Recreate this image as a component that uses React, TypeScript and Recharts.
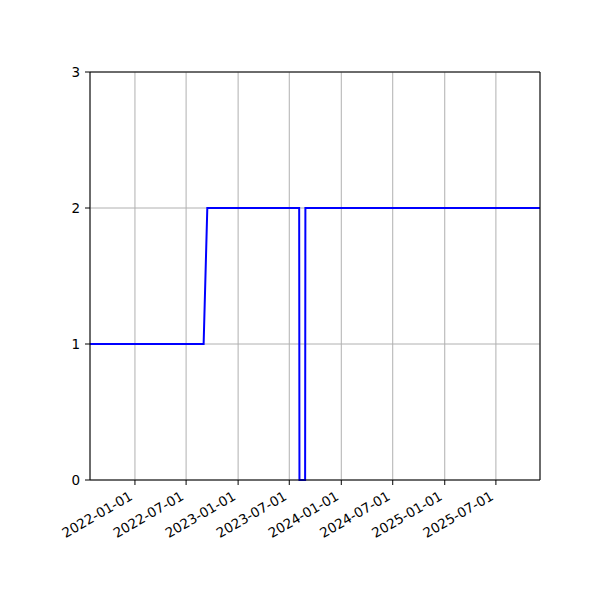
import React from "react";
import {
  LineChart,
  Line,
  XAxis,
  YAxis,
  CartesianGrid,
} from "recharts";

// Data
const pointDates = [
  "2021-07-26",
  "2022-09-01",
  "2022-09-14",
  "2023-08-05",
  "2023-08-06",
  "2023-08-26",
  "2023-08-27",
  "2025-12-04",
];
const pointValues = [1, 1, 2, 2, 0, 0, 2, 2];

const xTickLabels = [
  "2022-01-01",
  "2022-07-01",
  "2023-01-01",
  "2023-07-01",
  "2024-01-01",
  "2024-07-01",
  "2025-01-01",
  "2025-07-01",
];
const yTicks = [0, 1, 2, 3];
const xDomainLabels = ["2021-07-26", "2025-12-04"];

const toMs = (s: string) => {
  const [y, m, d] = s.split("-").map(Number);
  return Date.UTC(y, m - 1, d);
};

const fmt = (ms: number) => {
  const dt = new Date(ms);
  const y = dt.getUTCFullYear();
  const m = String(dt.getUTCMonth() + 1).padStart(2, "0");
  const d = String(dt.getUTCDate()).padStart(2, "0");
  return `${y}-${m}-${d}`;
};

const data = pointDates.map((d, i) => ({ t: toMs(d), v: pointValues[i] }));
const xTicks = xTickLabels.map(toMs);
const xDomain = xDomainLabels.map(toMs);

const FONT = "DejaVu Sans, sans-serif";
const FS = 13.5;

const XTick = (props: any) => {
  const { x, y, payload } = props;
  return (
    <g transform={`translate(${x - 1.5},${y + 9})`}>
      <text
        x={0}
        y={0}
        textAnchor="end"
        transform="rotate(-30)"
        fontSize={FS}
        fontFamily={FONT}
        fill="#000"
      >
        {fmt(payload.value)}
      </text>
    </g>
  );
};

export default function App() {
  return (
    <div style={{ position: "absolute", left: 0, top: 0, width: 600, height: 600, background: "#fff" }}>
      <LineChart
        width={600}
        height={600}
        data={data}
        margin={{ top: 0, right: 0, bottom: 0, left: 0 }}
      >
        <CartesianGrid stroke="#b0b0b0" strokeWidth={1} />
        <XAxis
          dataKey="t"
          type="number"
          domain={xDomain}
          ticks={xTicks}
          allowDataOverflow
          height={120}
          tickSize={5}
          tickMargin={5}
          tick={<XTick />}
          axisLine={{ stroke: "#000", strokeWidth: 1 }}
          tickLine={{ stroke: "#000", strokeWidth: 1 }}
          interval={0}
        />
        <XAxis
          xAxisId="top"
          orientation="top"
          dataKey="t"
          type="number"
          domain={xDomain}
          allowDataOverflow
          height={72}
          tick={false}
          tickLine={false}
          axisLine={{ stroke: "#000", strokeWidth: 1 }}
        />
        <YAxis
          type="number"
          domain={[0, 3]}
          ticks={yTicks}
          width={90}
          tickSize={5}
          tickMargin={5}
          interval={0}
          tick={{ fill: "#000", fontSize: FS, fontFamily: FONT }}
          axisLine={{ stroke: "#000", strokeWidth: 1 }}
          tickLine={{ stroke: "#000", strokeWidth: 1 }}
        />
        <YAxis
          yAxisId="right"
          orientation="right"
          type="number"
          domain={[0, 3]}
          width={60}
          tick={false}
          tickLine={false}
          axisLine={{ stroke: "#000", strokeWidth: 1 }}
        />
        <Line
          type="linear"
          dataKey="v"
          stroke="#0000ff"
          strokeWidth={2}
          dot={false}
          activeDot={false}
          isAnimationActive={false}
        />
      </LineChart>
    </div>
  );
}
